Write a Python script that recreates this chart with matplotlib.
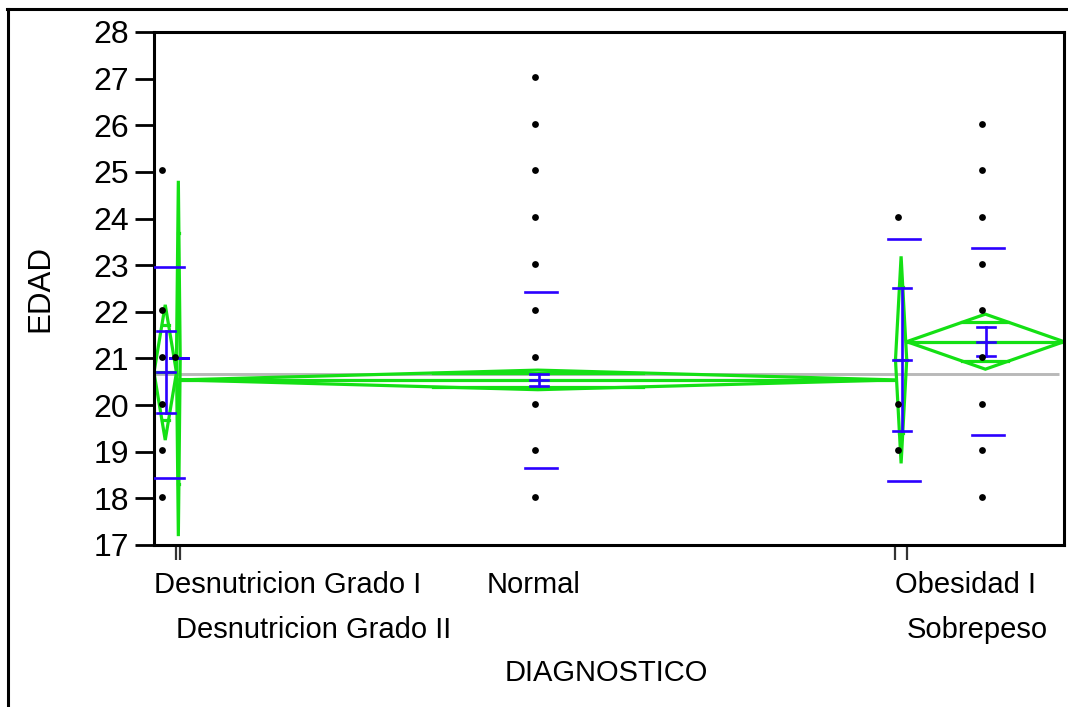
import numpy as np
import matplotlib
matplotlib.use("Agg")
import matplotlib.pyplot as plt
from matplotlib.lines import Line2D
from matplotlib.transforms import ScaledTranslation

# ---------------- data ----------------
groups = ["Desnutricion Grado I", "Desnutricion Grado II", "Normal", "Obesidad I", "Sobrepeso"]
group_n = [6, 1, 191, 3, 42]                 # proportional x-axis widths
group_means = [20.70, 21.00, 20.54, 20.97, 21.36]
group_sd = [2.27, None, 1.89, 2.60, 2.00]    # std-dev lines (mean +/- sd)
group_se = [0.88, 0.0, 0.13, 1.53, 0.31]     # error bars (mean +/- se)
group_ci = [1.45, 3.81, 0.21, 2.22, 0.59]    # means-diamond half heights
points = [
    [18, 19, 20, 21, 22, 25],
    [21],
    [18, 19, 20, 21, 22, 23, 24, 25, 26, 27],
    [19, 20, 24],
    [18, 19, 20, 21, 22, 23, 24, 25, 26],
]
grand_mean = 20.67
yticks = list(range(17, 29))
label_row = [0, 1, 0, 0, 1]
label_align = ["left", "left", "center", "left", "left"]

# ---------------- style ----------------
GREEN = "#14e014"
BLUE = "#2b00ff"
GRAY = "#b9b9b9"
FONT = "Liberation Sans"
FS = 21
FS_TICK = 23
plt.rcParams["font.family"] = [FONT, "DejaVu Sans"]

W, H = 1068, 707
fig = plt.figure(figsize=(W / 100, H / 100), dpi=100)
L, R, T, B = 154, 1064, 32, 545
ax = fig.add_axes([L / W, 1 - B / H, (R - L) / W, (B - T) / H])

total = float(sum(group_n))
ax.set_xlim(0, total)
ax.set_ylim(17, 28)
px = total / (R - L)  # data units per pixel in x

edges = np.concatenate([[0], np.cumsum(group_n)])

# grand mean line
ax.plot([0, total * 0.995], [grand_mean] * 2, color=GRAY, lw=2.1, zorder=1,
        solid_capstyle="butt")

off_pts = ScaledTranslation(-3 / 100, 1.5 / 100, fig.dpi_scale_trans)
GLW = 2.3
BLW = 1.9

for i, g in enumerate(groups):
    x0, x1 = edges[i], edges[i + 1]
    xc = (x0 + x1) / 2
    m = group_means[i]
    h = group_ci[i]
    # means diamond
    ax.plot([x0, xc, x1, xc, x0], [m, m + h, m, m - h, m], color=GREEN, lw=GLW,
            zorder=2, solid_joinstyle="miter")
    ax.plot([x0, x1], [m, m], color=GREEN, lw=GLW, zorder=2)
    # overlap marks
    hw = (x1 - x0) / 2 * (1 - 1 / np.sqrt(2))
    for s in (1, -1):
        ax.plot([xc - hw, xc + hw], [m + s * h / np.sqrt(2)] * 2, color=GREEN,
                lw=GLW, zorder=2)
    # std dev lines
    if group_sd[i] is not None:
        sw = 16 * px
        for s in (1, -1):
            ax.plot([xc + 3 * px - sw, xc + 3 * px + sw], [m + s * group_sd[i]] * 2,
                    color=BLUE, lw=BLW, zorder=3)
    # error bar
    se = group_se[i]
    cw = 9 * px
    ex = xc + 1 * px
    ax.plot([ex, ex], [m - se, m + se], color=BLUE, lw=BLW, zorder=3)
    for yv in (m - se, m, m + se):
        ax.plot([ex - cw, ex + cw], [yv, yv], color=BLUE, lw=BLW, zorder=3)
    # points
    ax.plot([xc] * len(points[i]), points[i], "o", color="black", ms=4.9,
            mec="none", zorder=5, transform=ax.transData + off_pts)
    # category labels
    row_off = [-40, -85][label_row[i]]
    xl = xc - 4 * px if label_align[i] == "center" else x0
    ax.annotate(g, xy=(xl, 0), xycoords=("data", "axes fraction"),
                xytext=(0, row_off * 0.72), textcoords="offset points",
                ha=label_align[i], va="center", fontsize=FS, family=[FONT, "DejaVu Sans"])

# axes styling
for sp in ax.spines.values():
    sp.set_linewidth(2.2)
    sp.set_color("black")
ax.set_yticks(yticks)
ax.set_yticklabels([str(t) for t in yticks], fontsize=FS_TICK)
ax.tick_params(axis="y", direction="out", length=14, width=2.0, pad=4)
ax.set_xticks(edges[1:-1])
ax.set_xticklabels([])
ax.tick_params(axis="x", direction="out", length=11, width=1.6, colors="#333333")

fig.text(40 / W, 1 - 288 / H, "EDAD", rotation=90, ha="center", va="center", fontsize=22.5)
fig.text(606 / W, 1 - 673 / H, "DIAGNOSTICO", ha="center", va="center", fontsize=FS)

# outer report frame
fig.add_artist(Line2D([7 / W, 1.0], [1 - 9 / H] * 2, color="black", lw=2.2,
                      transform=fig.transFigure))
fig.add_artist(Line2D([8 / W] * 2, [1 - 9 / H, 0], color="black", lw=2.2,
                      transform=fig.transFigure))

fig.savefig("out.png", dpi=100)
